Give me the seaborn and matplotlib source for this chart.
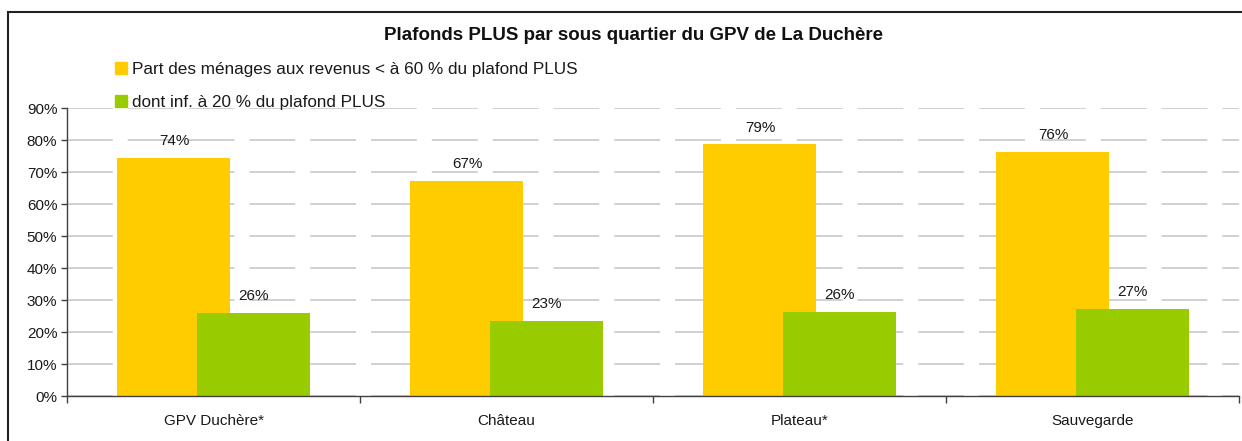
import pandas as pd
import matplotlib
matplotlib.use("Agg")
import matplotlib.pyplot as plt
from matplotlib.patches import Rectangle
from matplotlib.ticker import PercentFormatter, FixedLocator
import seaborn as sns

quartiers = ["GPV Duchère*", "Château", "Plateau*", "Sauvegarde"]
part_60 = [0.744, 0.672, 0.786, 0.763]
part_20 = [0.259, 0.234, 0.263, 0.272]
series = ["Part des ménages aux revenus < à 60 % du plafond PLUS",
          "dont inf. à 20 % du plafond PLUS"]
colors = ["#FFCC00", "#99CC00"]

df = pd.DataFrame({
    "quartier": quartiers * 2,
    "valeur": part_60 + part_20,
    "serie": [series[0]] * len(quartiers) + [series[1]] * len(quartiers),
})

sns.set_style("white")
plt.rcParams["font.family"] = ["Liberation Sans", "DejaVu Sans"]

fig = plt.figure(figsize=(12.42, 4.41), dpi=100)
ax = fig.add_axes([67 / 1242, 1 - 396 / 441, (1239 - 67) / 1242, (396 - 108) / 441])

sns.barplot(data=df, x="quartier", y="valeur", hue="serie", palette=colors,
            width=0.54, saturation=1, errorbar=None, legend=False, ax=ax)

# bars overlap in the original: widen each one around its dodged centre
bar_w = 0.386
for cont in ax.containers:
    for bar in cont:
        c = bar.get_x() + bar.get_width() / 2
        bar.set_width(bar_w)
        bar.set_x(c - bar_w / 2)
        bar.set_edgecolor("none")

for cont in ax.containers:
    ax.bar_label(cont, labels=[f"{v * 100:.0f}%" for v in cont.datavalues],
                 padding=7, fontsize=11, color="#1a1a1a")

ax.set_xlim(-0.5, 3.5)
ax.set_ylim(0, 0.9)
ax.yaxis.set_major_locator(FixedLocator([i / 10 for i in range(10)]))
ax.yaxis.set_major_formatter(PercentFormatter(1.0, decimals=0))
ax.set_xlabel("")
ax.set_ylabel("")

ax.grid(axis="y", color="#c4c4c4", linewidth=1.1, linestyle=(0, (30, 9.8)))
ax.set_axisbelow(True)

for s in ["top", "right"]:
    ax.spines[s].set_visible(False)
for s in ["left", "bottom"]:
    ax.spines[s].set_color("#404040")
    ax.spines[s].set_linewidth(1.0)

ax.tick_params(axis="y", which="major", direction="out", length=4, width=1,
               color="#404040", labelsize=11, labelcolor="#1a1a1a", pad=3, left=True)
ax.tick_params(axis="x", which="major", length=0, labelsize=11,
               labelcolor="#1a1a1a", pad=13)
ax.xaxis.set_minor_locator(FixedLocator([-0.5, 0.5, 1.5, 2.5, 3.5]))
ax.tick_params(axis="x", which="minor", direction="out", length=5, width=1,
               color="#404040", bottom=True)

handles = [Rectangle((0, 0), 1, 1, color=c) for c in colors]
fig.legend(handles, series, loc="upper left",
           bbox_to_anchor=(115 / 1242, 1 - 62 / 441), frameon=False,
           fontsize=12.3, borderpad=0, borderaxespad=0, handlelength=0.68,
           handleheight=0.68, handletextpad=0.3, labelspacing=1.05,
           labelcolor="#1a1a1a")

fig.text(633 / 1242, 1 - 35 / 441, "Plafonds PLUS par sous quartier du GPV de La Duchère",
         ha="center", va="center", fontsize=13.5, fontweight="bold", color="#111111")

fig.patches.append(Rectangle((8 / 1242, -0.05), 1.0, 1 - 12 / 441 + 0.05,
                             transform=fig.transFigure, fill=False,
                             edgecolor="#222222", linewidth=1.5, figure=fig))

fig.savefig("out.png", dpi=100)
